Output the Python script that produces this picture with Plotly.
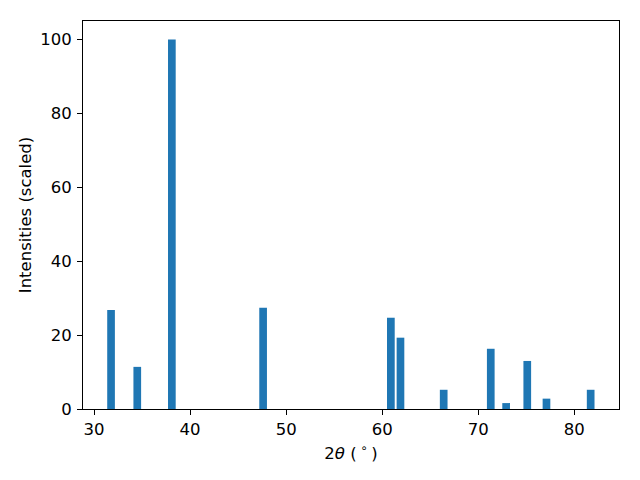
import plotly.graph_objects as go

two_theta = [31.77, 34.5, 38.1, 47.6, 60.9, 61.9, 66.4, 71.3, 72.9, 75.1, 77.1, 81.7]
intensity = [26.8, 11.4, 100.0, 27.4, 24.7, 19.3, 5.2, 16.3, 1.6, 13.0, 2.8, 5.2]
x_ticks = [30, 40, 50, 60, 70, 80]
y_ticks = [0, 20, 40, 60, 80, 100]

fig = go.Figure(go.Bar(x=two_theta, y=intensity, width=0.8,
                       marker=dict(color="#1f77b4", line=dict(width=0))))

font = dict(family="DejaVu Sans", size=16.5, color="black")
fig.update_layout(
    width=640, height=480,
    margin=dict(l=83, r=21, t=21, b=71),
    paper_bgcolor="white", plot_bgcolor="white",
    font=font, showlegend=False,
    xaxis=dict(range=[28.85, 84.65], tickvals=x_ticks, ticks="outside", ticklen=5,
               tickcolor="black", showline=True, linecolor="black", linewidth=1,
               mirror=True, showgrid=False, zeroline=False, automargin=False,
               tickfont=font,
               title=dict(text="2<i>θ</i> (<sup> ∘ </sup>)", standoff=9, font=font)),
    yaxis=dict(range=[0, 105], tickvals=y_ticks, ticks="outside", ticklen=5,
               tickcolor="black", showline=True, linecolor="black", linewidth=1,
               mirror=True, showgrid=False, zeroline=False, automargin=False,
               tickfont=font, ticklabelstandoff=2,
               title=dict(text="Intensities (scaled)", standoff=4, font=font)),
)
fig.write_html("out.html", post_script="document.body.style.margin='0';",
               config={"displayModeBar": False})
